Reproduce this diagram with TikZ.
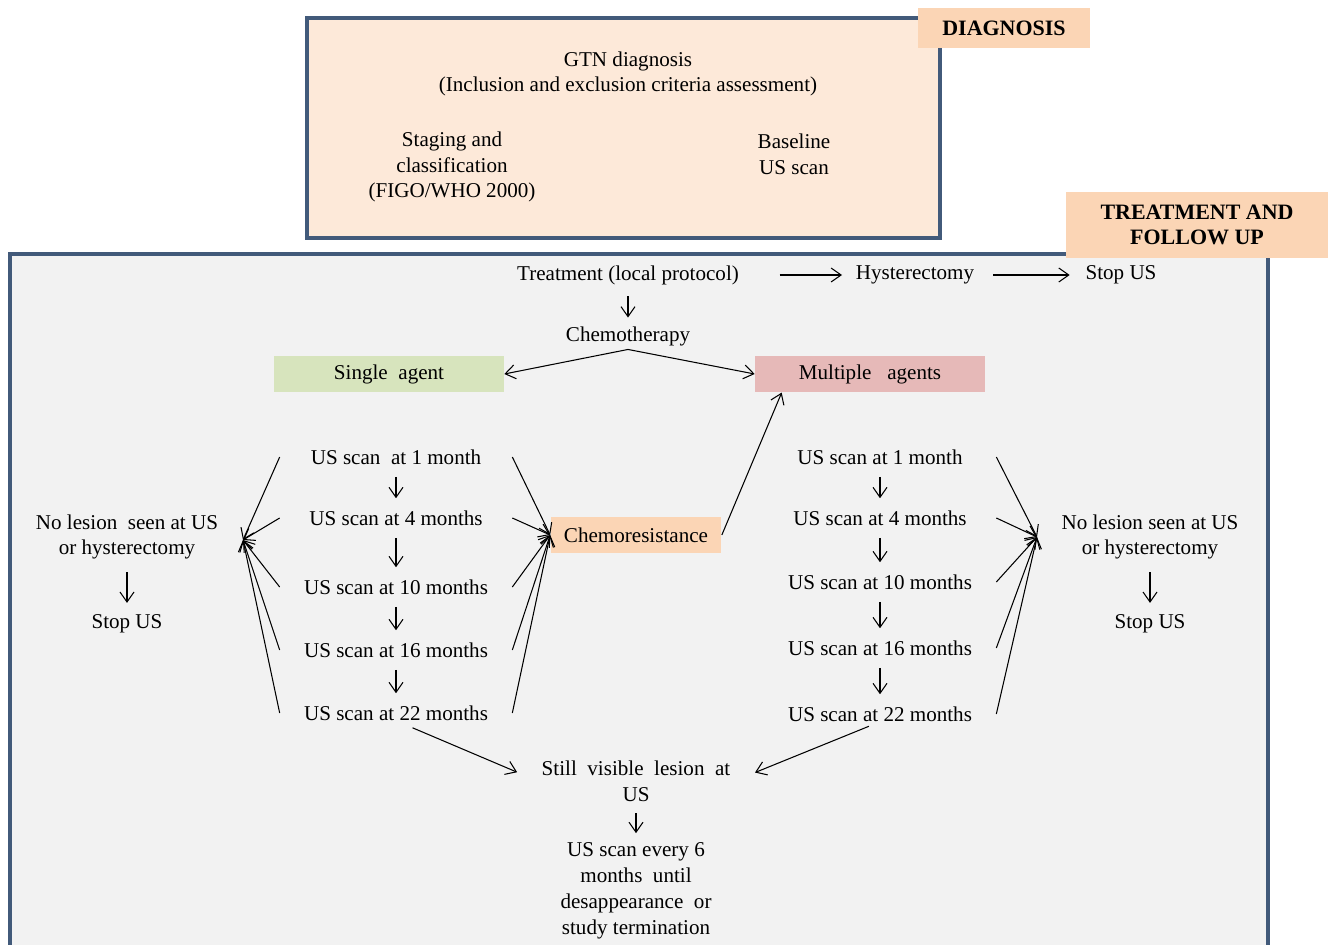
\documentclass[tikz,border=0pt]{standalone}
\usepackage{fontspec}
\setmainfont{Liberation Serif}
\usetikzlibrary{arrows.meta}
\definecolor{framecol}{RGB}{66,90,122}
\definecolor{diagfill}{RGB}{253,233,217}
\definecolor{treatfill}{RGB}{242,242,242}
\definecolor{peach}{RGB}{251,213,181}
\definecolor{agentgreen}{RGB}{215,228,189}
\definecolor{agentpink}{RGB}{230,185,184}
\begin{document}
\begin{tikzpicture}[x=0.02cm,y=-0.02cm,
  txt/.style={font=\fontsize{12}{14.7}\selectfont, align=center, inner sep=2pt},
  scan/.style={txt, minimum width=4.64cm, inner sep=0pt},
  box/.style={txt, inner sep=0pt, minimum height=0.73cm},
  tag/.style={box, fill=peach, font=\fontsize{12.5}{14.7}\selectfont\bfseries},
  frame/.style={draw=framecol, line width=2.2pt},
  arr/.style={-{Straight Barb[length=2mm,width=2.8mm]}, line width=0.6pt},
  down/.style={arr, shorten <=0.24cm, shorten >=0.24cm}]
  \useasboundingbox (0,0) rectangle (1328,945);

  % Rahmen
  \draw[frame, fill=diagfill] (307,18) rectangle (940,238);
  \draw[frame, fill=treatfill] (10,254) rectangle (1268,1000);
  \node[tag, minimum width=3.44cm, minimum height=0.8cm] (diagtag) at (1004,28) {DIAGNOSIS};
  \node[tag, minimum width=5.24cm, minimum height=1.32cm] (treattag) at (1197,225) {TREATMENT AND\\FOLLOW UP};

  % Diagnosis
  \node[txt] (gtn) at (628,74) {GTN diagnosis\\(Inclusion and exclusion criteria assessment)};
  \node[txt] (staging) at (452,167) {Staging and\\classification\\(FIGO/WHO 2000)};
  \node[txt] (baseline) at (794,154) {Baseline\\US scan};

  % Treatment
  \node[txt] (treat) at (628,275) {Treatment (local protocol)};
  \node[txt] (hyst) at (915,275) {Hysterectomy};
  \node[txt] (stoptop) at (1121,275) {Stop US};
  \node[txt] (chemo) at (628,336) {Chemotherapy};
  \draw[arr, shorten <=0.74cm, shorten >=0.2cm] (treat.east) -- (hyst.west);
  \draw[arr, shorten <=0.3cm, shorten >=0.24cm] (hyst.east) -- (stoptop.west);
  \draw[arr, shorten <=0.16cm, shorten >=0.1cm] (treat) -- (chemo);

  \node[box, fill=agentgreen, minimum width=4.6cm] (single) at (389,374) {Single\ \ agent};
  \node[box, fill=agentpink, minimum width=4.6cm] (multi) at (870,374) {Multiple\ \ \ agents};
  \draw[arr] (chemo.south) -- (single.east);
  \draw[arr] (chemo.south) -- (multi.west);

  \node[box, fill=peach, minimum width=3.42cm] (resist) at (636,535) {Chemoresistance};
  \draw[arr] (resist.east) -- ([xshift=0.54cm]multi.south west);

  % Single agent follow up
  \node[scan] (l1) at (396,457) {US scan\ \ at 1 month};
  \node[scan] (l2) at (396,518) {US scan at 4 months};
  \node[scan] (l3) at (396,587) {US scan at 10 months};
  \node[scan] (l4) at (396,650) {US scan at 16 months};
  \node[scan] (l5) at (396,713) {US scan at 22 months};
  \draw[down] (l1) -- (l2);
  \draw[down] (l2) -- (l3);
  \draw[down] (l3) -- (l4);
  \draw[down] (l4) -- (l5);

  % Multiple agents follow up
  \node[scan] (r1) at (880,457) {US scan at 1 month};
  \node[scan] (r2) at (880,518) {US scan at 4 months};
  \node[scan] (r3) at (880,582) {US scan at 10 months};
  \node[scan] (r4) at (880,648) {US scan at 16 months};
  \node[scan] (r5) at (880,714) {US scan at 22 months};
  \draw[down] (r1) -- (r2);
  \draw[down] (r2) -- (r3);
  \draw[down] (r3) -- (r4);
  \draw[down] (r4) -- (r5);

  % No lesion
  \node[txt] (noleft) at (127,537) {No lesion\ \ seen at US\\or hysterectomy};
  \node[txt] (stopleft) at (127,624) {Stop US};
  \draw[arr, shorten <=0.18cm, shorten >=0.16cm] (noleft) -- (stopleft);
  \node[txt] (noright) at (1150,537) {No lesion seen at US\\or hysterectomy};
  \node[txt] (stopright) at (1150,624) {Stop US};
  \draw[arr, shorten <=0.18cm, shorten >=0.16cm] (noright) -- (stopright);
  \coordinate (lfan) at (243,540);
  \coordinate (rfan) at (1037,537);

  % Fächer
  \draw[arr] (l1.west) -- (lfan);
  \draw[arr] (l2.west) -- (lfan);
  \draw[arr] (l3.west) -- (lfan);
  \draw[arr] (l4.west) -- (lfan);
  \draw[arr] (l5.west) -- (lfan);
  \draw[arr] (l1.east) -- (resist.west);
  \draw[arr] (l2.east) -- (resist.west);
  \draw[arr] (l3.east) -- (resist.west);
  \draw[arr] (l4.east) -- (resist.west);
  \draw[arr] (l5.east) -- (resist.west);
  \draw[arr] (r1.east) -- (rfan);
  \draw[arr] (r2.east) -- (rfan);
  \draw[arr] (r3.east) -- (rfan);
  \draw[arr] (r4.east) -- (rfan);
  \draw[arr] (r5.east) -- (rfan);

  % Still visible
  \node[txt] (still) at (636,781) {Still\ \ visible\ \ lesion\ \ at\\US};
  \node[txt] (every) at (636,891) {US scan every 6\\months\ \ until\\desappearance\ \ or\\study termination};
  \draw[arr, shorten <=0.36cm, shorten >=0.45cm] (l5.south) -- (still.west);
  \draw[arr, shorten <=0.24cm, shorten >=0.45cm] (r5.south) -- (still.east);
  \draw[arr, shorten <=0.16cm, shorten >=0.12cm] (still) -- (every);
\end{tikzpicture}
\end{document}
